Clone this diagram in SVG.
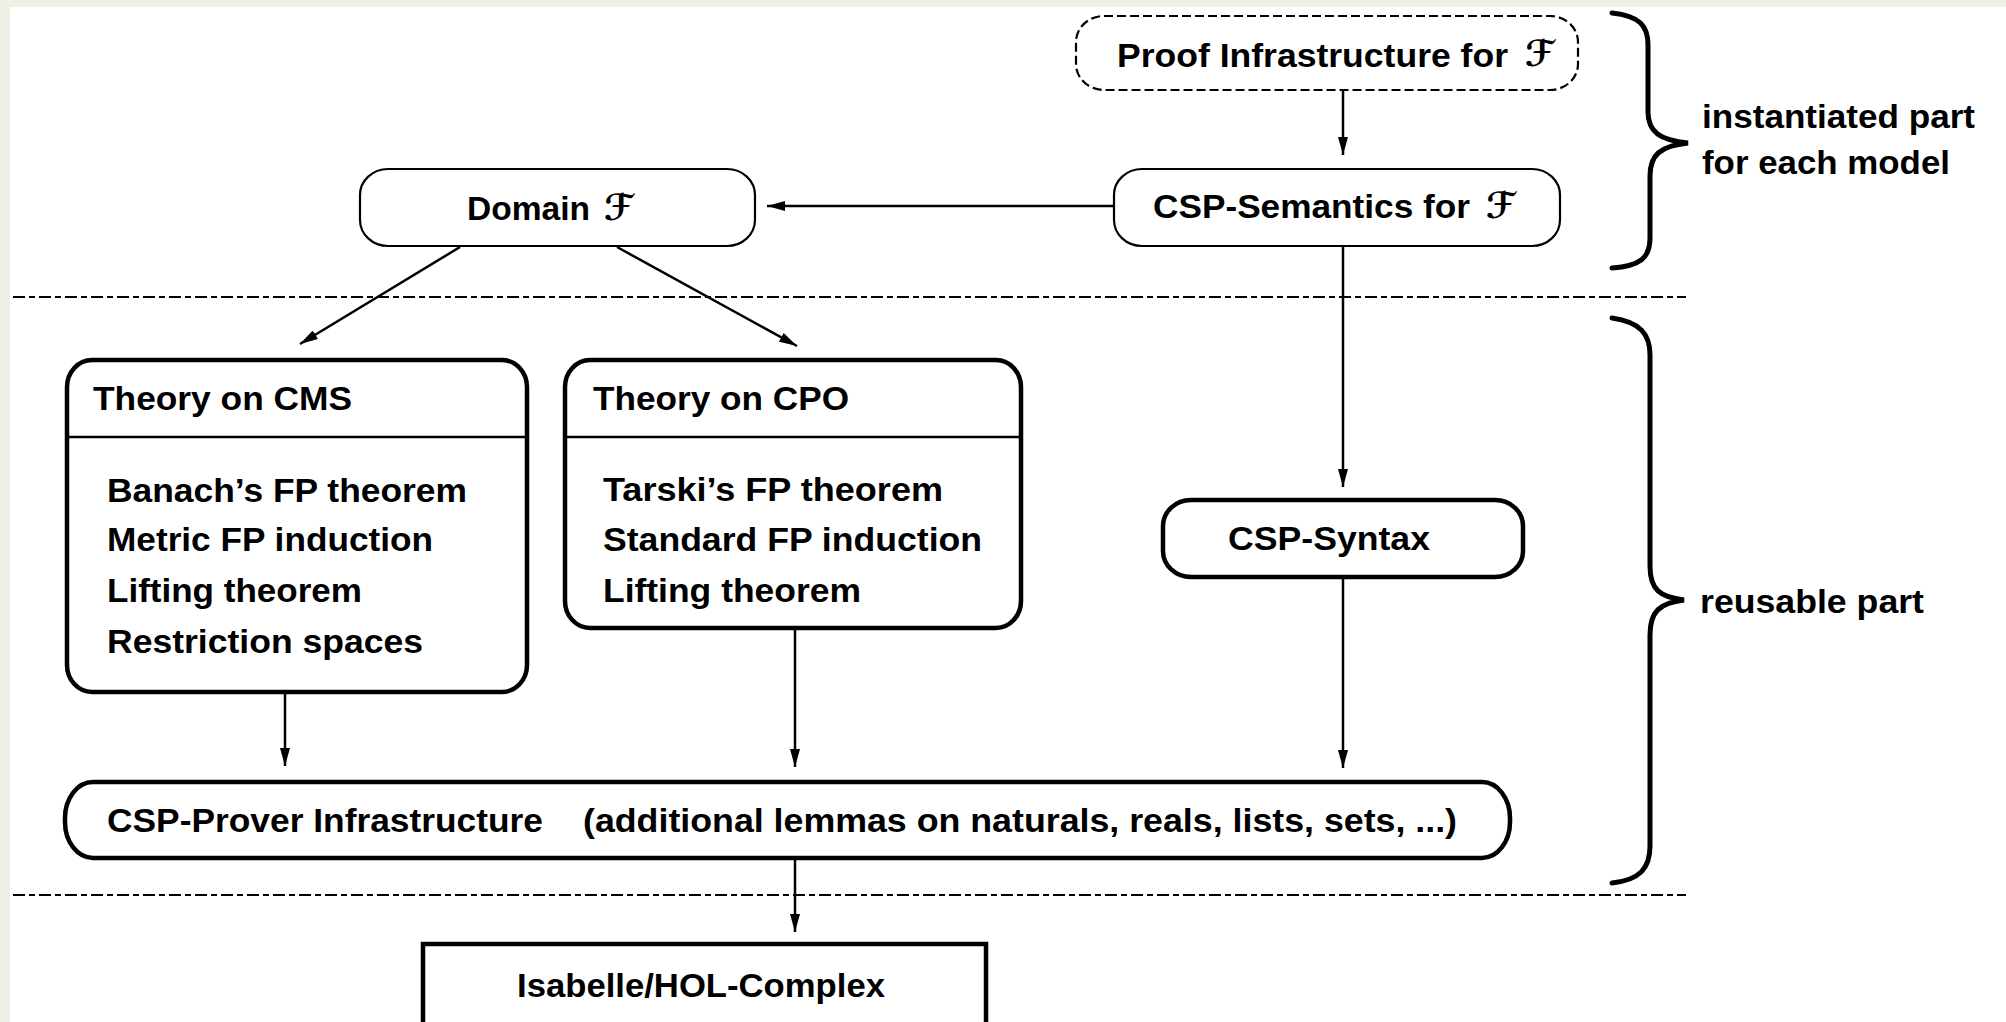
<svg xmlns="http://www.w3.org/2000/svg" width="2006" height="1022" viewBox="0 0 2006 1022">
<style>
text{font-family:"Liberation Sans",Arial,sans-serif;font-weight:bold;font-size:34px;fill:#000}
.sym{font-family:"DejaVu Serif","DejaVu Sans",serif;font-style:italic;font-weight:bold;font-size:36px}
.thin{fill:#fff;stroke:#000;stroke-width:2.2}
.thick{fill:#fff;stroke:#000;stroke-width:4.5}
.dash{fill:#fff;stroke:#000;stroke-width:2.2;stroke-dasharray:9 4}
.sep{stroke:#000;stroke-width:2;stroke-dasharray:12 4 6 4;fill:none}
.brace{fill:none;stroke:#000;stroke-width:5;stroke-linecap:round}
.edge{stroke:#000;stroke-width:2.5;fill:none;marker-end:url(#ah)}
</style>
<defs>
<marker id="ah" viewBox="0 0 18 10" refX="18" refY="5" markerWidth="18" markerHeight="10" markerUnits="userSpaceOnUse" orient="auto">
<path d="M0,0 L18,5 L0,10 z" fill="#000"/>
</marker>
</defs>
<rect x="0" y="0" width="2006" height="1022" fill="#efefe6"/>
<rect x="10" y="7" width="1996" height="1015" fill="#fff"/>

<g id="separators">
<line class="sep" x1="13" y1="297" x2="1686" y2="297"/>
<line class="sep" x1="13" y1="895" x2="1686" y2="895"/>
</g>

<g id="connectors">
<line class="edge" x1="1343" y1="90" x2="1343" y2="155"/>
<line class="edge" x1="1114" y1="206" x2="767" y2="206"/>
<line class="edge" x1="460" y1="247" x2="300" y2="344"/>
<line class="edge" x1="617" y1="247" x2="797" y2="346"/>
<line class="edge" x1="1343" y1="246" x2="1343" y2="487"/>
<line class="edge" x1="285" y1="692" x2="285" y2="766"/>
<line class="edge" x1="795" y1="628" x2="795" y2="767"/>
<line class="edge" x1="1343" y1="577" x2="1343" y2="768"/>
<line class="edge" x1="795" y1="858" x2="795" y2="932"/>
</g>

<g id="proof-infrastructure">
<rect class="dash" x="1076" y="16" width="502" height="74" rx="28" ry="26"/>
<text x="1117" y="67" textLength="391" lengthAdjust="spacingAndGlyphs">Proof Infrastructure for</text>
<text class="sym" x="1525" y="66">ℱ</text>
</g>

<g id="csp-semantics">
<rect class="thin" x="1114" y="169" width="446" height="77" rx="28" ry="26"/>
<text x="1153" y="218" textLength="317" lengthAdjust="spacingAndGlyphs">CSP-Semantics for</text>
<text class="sym" x="1486" y="218">ℱ</text>
</g>

<g id="domain">
<rect class="thin" x="360" y="169" width="395" height="77" rx="28" ry="26"/>
<text x="467" y="220" textLength="123" lengthAdjust="spacingAndGlyphs">Domain</text>
<text class="sym" x="604" y="220">ℱ</text>
</g>

<g id="theory-cms">
<rect class="thick" x="67" y="360" width="460" height="332" rx="25" ry="27"/>
<line x1="67" y1="437" x2="527" y2="437" stroke="#000" stroke-width="2.5"/>
<text x="93" y="410" textLength="259" lengthAdjust="spacingAndGlyphs">Theory on CMS</text>
<text x="107" y="502" textLength="360" lengthAdjust="spacingAndGlyphs">Banach’s FP theorem</text>
<text x="107" y="551" textLength="326" lengthAdjust="spacingAndGlyphs">Metric FP induction</text>
<text x="107" y="602" textLength="255" lengthAdjust="spacingAndGlyphs">Lifting theorem</text>
<text x="107" y="653" textLength="316" lengthAdjust="spacingAndGlyphs">Restriction spaces</text>
</g>

<g id="theory-cpo">
<rect class="thick" x="565" y="360" width="456" height="268" rx="25" ry="27"/>
<line x1="565" y1="437" x2="1021" y2="437" stroke="#000" stroke-width="2.5"/>
<text x="593" y="410" textLength="256" lengthAdjust="spacingAndGlyphs">Theory on CPO</text>
<text x="603" y="501" textLength="340" lengthAdjust="spacingAndGlyphs">Tarski’s FP theorem</text>
<text x="603" y="551" textLength="379" lengthAdjust="spacingAndGlyphs">Standard FP induction</text>
<text x="603" y="602" textLength="258" lengthAdjust="spacingAndGlyphs">Lifting theorem</text>
</g>

<g id="csp-syntax">
<rect class="thick" x="1163" y="500" width="360" height="77" rx="28" ry="26"/>
<text x="1228" y="550" textLength="202" lengthAdjust="spacingAndGlyphs">CSP-Syntax</text>
</g>

<g id="csp-prover-infrastructure">
<rect class="thick" x="65" y="782" width="1445" height="76" rx="28" ry="36"/>
<text x="107" y="832" textLength="436" lengthAdjust="spacingAndGlyphs">CSP-Prover Infrastructure</text>
<text x="583" y="832" textLength="874" lengthAdjust="spacingAndGlyphs">(additional lemmas on naturals, reals, lists, sets, ...)</text>
</g>

<g id="isabelle">
<rect class="thick" x="423" y="944" width="563" height="84"/>
<text x="517" y="997" textLength="368" lengthAdjust="spacingAndGlyphs">Isabelle/HOL-Complex</text>
</g>

<g id="brace-instantiated">
<path class="brace" d="M1612,13 C1640,16 1648,26 1648,45 L1648,112 C1648,132 1660,140 1688,143 C1660,146 1650,155 1650,176 L1650,238 C1650,258 1640,266 1612,268"/>
<text x="1702" y="128" textLength="273" lengthAdjust="spacingAndGlyphs">instantiated part</text>
<text x="1702" y="174" textLength="248" lengthAdjust="spacingAndGlyphs">for each model</text>
</g>

<g id="brace-reusable">
<path class="brace" d="M1612,318 C1640,322 1650,334 1650,355 L1650,566 C1650,590 1660,597 1684,600 C1660,603 1650,611 1650,635 L1650,846 C1650,868 1640,880 1612,883"/>
<text x="1700" y="613" textLength="224" lengthAdjust="spacingAndGlyphs">reusable part</text>
</g>
</svg>
